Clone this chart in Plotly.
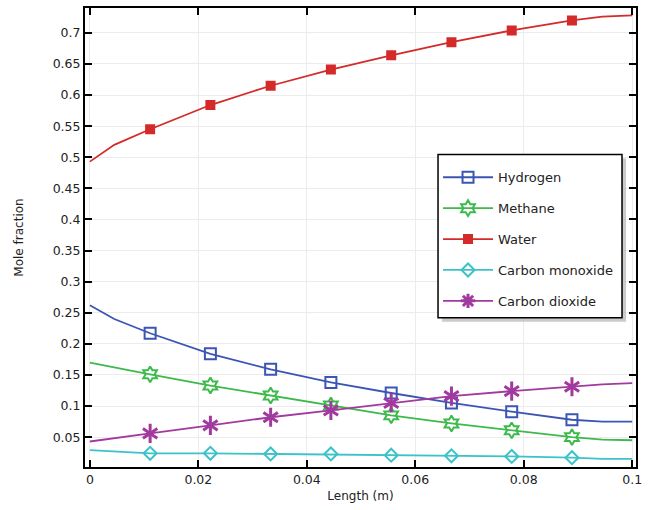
import plotly.graph_objects as go

x_line = [0, 0.0045, 0.01111, 0.02222, 0.03333, 0.04444, 0.05556, 0.06667, 0.07778, 0.08889, 0.0945, 0.1]
hydrogen = [0.262, 0.240, 0.217, 0.184, 0.159, 0.138, 0.121, 0.105, 0.091, 0.078, 0.075, 0.075]
methane = [0.170, 0.162, 0.151, 0.133, 0.117, 0.101, 0.085, 0.072, 0.061, 0.050, 0.046, 0.045]
water = [0.493, 0.520, 0.545, 0.584, 0.615, 0.641, 0.664, 0.685, 0.704, 0.720, 0.726, 0.728]
co = [0.029, 0.027, 0.024, 0.024, 0.023, 0.023, 0.021, 0.020, 0.019, 0.017, 0.015, 0.015]
co2 = [0.043, 0.048, 0.056, 0.069, 0.082, 0.093, 0.105, 0.116, 0.124, 0.131, 0.135, 0.137]
marker_idx = [2, 3, 4, 5, 6, 7, 8, 9]

series = [
    ("Hydrogen", hydrogen, "#3b55b5", ["square-open"], 11, 2),
    ("Methane", methane, "#3dba4b", ["hexagram-open"], 12, 2),
    ("Water", water, "#d42a2a", ["square"], 8, 2),
    ("Carbon monoxide", co, "#3cc3c9", ["diamond-open"], 10, 2),
    ("Carbon dioxide", co2, "#a2399f", ["y-up-open", "y-down-open"], 12, 3),
]

fig = go.Figure()
for name, ys, color, syms, size, mlw in series:
    mx = [x_line[i] for i in marker_idx]
    my = [ys[i] for i in marker_idx]
    fig.add_trace(go.Scatter(x=x_line, y=ys, mode="lines", line=dict(color=color, width=1.8),
                             showlegend=False, legendgroup=name, hoverinfo="skip"))
    for sym in syms:
        fig.add_trace(go.Scatter(x=mx, y=my, mode="markers", showlegend=False,
                                 legendgroup=name,
                                 marker=dict(symbol=sym, size=size, color=color,
                                             line=dict(color=color, width=mlw))))
    # legend entry
    leg_sym = "asterisk-open" if len(syms) > 1 else syms[0]
    fig.add_trace(go.Scatter(x=[None], y=[None], mode="lines+markers", name=name,
                             legendgroup=name, line=dict(color=color, width=1.8),
                             marker=dict(symbol=leg_sym, size=size, color=color,
                                         line=dict(color=color, width=mlw))))

axis_common = dict(showline=True, linecolor="black", linewidth=2, mirror="ticks",
                   ticks="inside", ticklen=7, tickwidth=1.5, tickcolor="black",
                   showgrid=True, gridcolor="#ececec", gridwidth=1, zeroline=False,
                   tickfont=dict(family="DejaVu Sans", size=12.5, color="#222"))

fig.update_xaxes(range=[-0.0009, 0.1007], tickvals=[0, 0.02, 0.04, 0.06, 0.08, 0.1],
                 ticktext=["0", "0.02", "0.04", "0.06", "0.08", "0.1"],
                 title=dict(text="Length (m)", standoff=6,
                            font=dict(family="DejaVu Sans", size=12, color="#222")),
                 **axis_common)
yt = [round(0.05 * k, 2) for k in range(1, 15)]
fig.update_yaxes(range=[0.002, 0.74], tickvals=yt, ticktext=[("%g" % v) for v in yt],
                 title=dict(text="Mole fraction", standoff=26,
                            font=dict(family="DejaVu Sans", size=12, color="#222")),
                 **axis_common)

# legend drop shadow and frame
fig.add_shape(type="rect", xref="paper", yref="paper", layer="above",
              x0=0.648, x1=0.982, y0=0.3167, y1=0.6724,
              fillcolor="#a8a8a8", line=dict(width=0), opacity=0.6)
fig.add_shape(type="rect", xref="paper", yref="paper", layer="above",
              x0=0.6407, x1=0.9746, y0=0.3254, y1=0.681,
              fillcolor="white", line=dict(color="black", width=1.5))

fig.update_layout(
    width=651, height=510, paper_bgcolor="white", plot_bgcolor="white",
    margin=dict(l=85, r=15, t=6, b=43),
    font=dict(family="DejaVu Sans", size=12, color="#222"),
    legend=dict(x=0.6407, y=0.6638, xanchor="left", yanchor="top",
                bgcolor="rgba(0,0,0,0)", borderwidth=0,
                font=dict(family="DejaVu Sans", size=13, color="#222"),
                tracegroupgap=11, itemwidth=50),
)
fig.write_html("out.html")
